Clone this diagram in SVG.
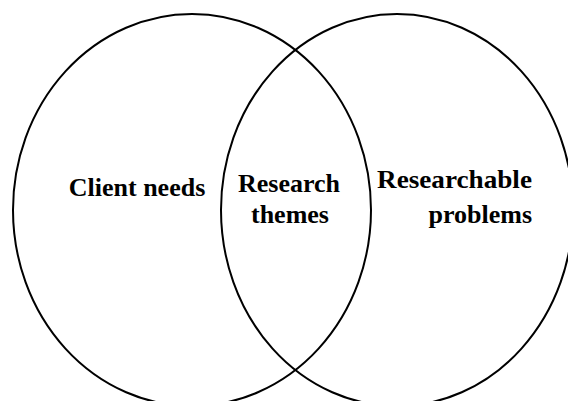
<svg xmlns="http://www.w3.org/2000/svg" width="568" height="401" viewBox="0 0 568 401">
<style>
.c{fill:none;stroke:#000;stroke-width:2}
.t{font-family:"Liberation Serif","Times New Roman",serif;font-weight:bold;font-size:26px;fill:#000}
</style>
<rect width="568" height="401" fill="#fff"/>
<g id="client-needs">
<ellipse class="c" cx="192" cy="210" rx="179" ry="196"/>
<text class="t" x="137" y="196" text-anchor="middle">Client needs</text>
</g>
<g id="researchable-problems">
<ellipse class="c" cx="397" cy="210" rx="176" ry="196"/>
<text class="t" x="377" y="188" textLength="155" lengthAdjust="spacingAndGlyphs">Researchable</text>
<text class="t" x="532" y="223" text-anchor="end">problems</text>
</g>
<g id="research-themes">
<text class="t" x="289" y="192" text-anchor="middle">Research</text>
<text class="t" x="290" y="223" text-anchor="middle">themes</text>
</g>
</svg>
